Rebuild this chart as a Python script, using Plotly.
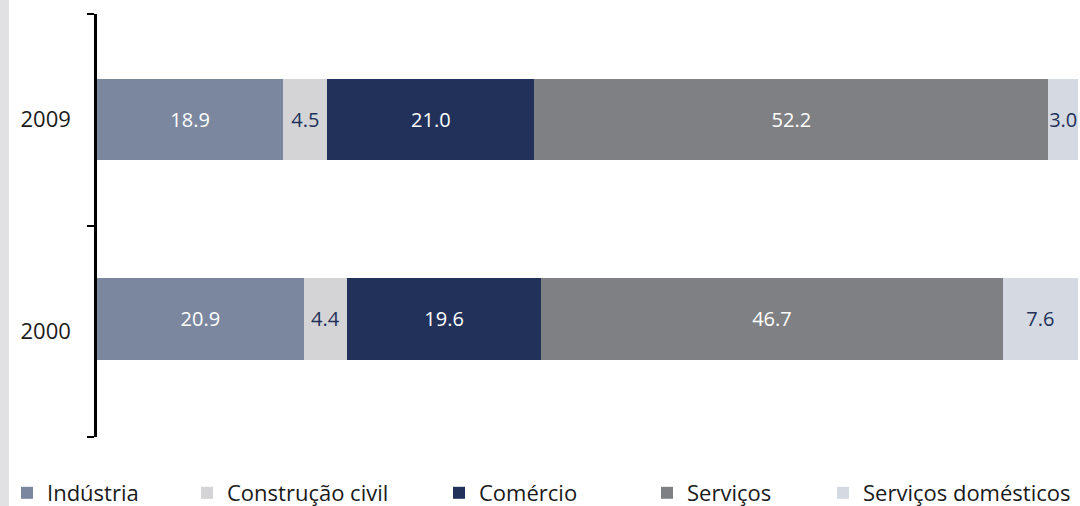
import plotly.graph_objects as go

# data
years = ["2009", "2000"]
sectors = ["Indústria", "Construção civil", "Comércio", "Serviços", "Serviços domésticos"]
industria = [18.9, 20.9]
construcao = [4.5, 4.4]
comercio = [21.0, 19.6]
servicos = [52.2, 46.7]
domesticos = [3.0, 7.6]

values = [industria, construcao, comercio, servicos, domesticos]
colors = ["#7b879e", "#d4d4d6", "#22315a", "#7f8084", "#d5d9e2"]
text_colors = ["white", "#22315a", "white", "white", "#22315a"]
legend_text_x = [47, 227, 479, 687, 863]  # where each legend label starts, px

FONT = "Open Sans"
W, H = 1080, 506

fig = go.Figure()
for i, (name, vals) in enumerate(zip(sectors, values)):
    fig.add_trace(go.Bar(
        y=years, x=vals, name=name, orientation="h",
        marker=dict(color=colors[i], line=dict(width=0)),
        width=[0.383, 0.388], offset=[-0.189, -0.135],
        text=[f"{v:.1f}" for v in vals],
        textposition="inside", insidetextanchor="middle", textangle=0,
        textfont=dict(color=text_colors[i], size=20, family=FONT),
        hoverinfo="x+y+name",
        legend="legend" if i == 0 else f"legend{i + 1}",
    ))

layout_legends = {}
for i, lx in enumerate(legend_text_x):
    key = "legend" if i == 0 else f"legend{i + 1}"
    layout_legends[key] = dict(
        xref="container", yref="container",
        x=(lx - 40) / W, y=(506 - 493) / H,
        xanchor="left", yanchor="middle",
        orientation="h", bgcolor="rgba(0,0,0,0)",
        font=dict(family=FONT, size=22, color="#1a1a1a"),
    )

fig.update_layout(
    width=W, height=H,
    showlegend=True,
    barmode="stack", barnorm="percent",
    margin=dict(l=97, r=2, t=14, b=69, autoexpand=False),
    paper_bgcolor="white", plot_bgcolor="white",
    uniformtext=dict(minsize=20, mode="show"),
    xaxis=dict(visible=False, range=[0, 100]),
    yaxis=dict(
        type="category", categoryorder="array", categoryarray=["2000", "2009"],
        range=[-0.5, 1.5],
        showline=True, linecolor="black", linewidth=2.5,
        ticks="outside", tickson="boundaries", ticklen=7, tickwidth=2, tickcolor="black",
        ticklabelstandoff=19,
        tickfont=dict(family=FONT, size=22, color="#1a1a1a"),
        showgrid=False, zeroline=False,
    ),
    shapes=[dict(
        type="rect", xref="paper", yref="paper",
        x0=-97 / 981, x1=-88 / 981, y0=-69 / 423, y1=437 / 423,
        fillcolor="#e1e1e3", line=dict(width=0), layer="below",
    )],
    **layout_legends,
)

# drop the browser's default 8px body margin so the figure sits at 0,0
fig.write_html("out.html", config={"displayModeBar": False},
               post_script="document.body.style.margin='0';")
